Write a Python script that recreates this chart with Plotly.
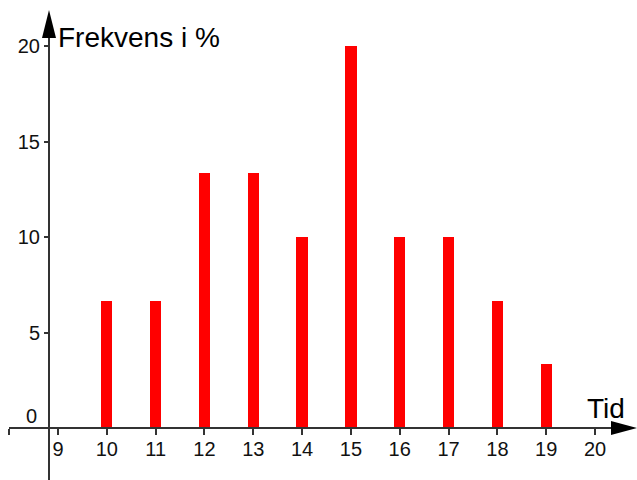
import plotly.graph_objects as go

# Data
tider = [10, 11, 12, 13, 14, 15, 16, 17, 18, 19]
frekvens = [6.67, 6.67, 13.33, 13.33, 10, 20, 10, 10, 6.67, 3.33]
x_ticks = [8, 9, 10, 11, 12, 13, 14, 15, 16, 17, 18, 19, 20]
x_ticktext = ["", "9", "10", "11", "12", "13", "14", "15", "16", "17", "18", "19", "20"]
y_ticks = [5, 10, 15, 20]
y_label = "Frekvens i %"
x_label = "Tid"

W, H = 637, 480
x0_px, dx_px = 58, 48.82      # pixel of x=9, pixels per unit
y0_px, dy_px = 428, 19.1      # pixel of y=0, pixels per unit

xr = [9 - x0_px / dx_px, 9 + (W - x0_px) / dx_px]
yr = [-(H - y0_px) / dy_px, y0_px / dy_px]

axis_col = "#333333"
font_fam = "Liberation Sans, Arial, sans-serif"

fig = go.Figure()
fig.add_trace(go.Bar(x=tider, y=frekvens, width=0.23, marker=dict(color="#ff0000", line=dict(width=0)),
                     showlegend=False, hoverinfo="x+y"))

yax_px = 49
fig.update_layout(
    width=W, height=H,
    margin=dict(l=0, r=0, t=0, b=0),
    paper_bgcolor="white", plot_bgcolor="white",
    xaxis=dict(range=xr, showgrid=False, zeroline=False, showline=False,
               tickvals=x_ticks, ticktext=x_ticktext, ticks="outside", ticklen=6, tickwidth=2,
               tickcolor=axis_col, anchor="free", position=(H - y0_px) / H, ticklabelstandoff=-3,
               tickfont=dict(family=font_fam, size=20, color="#111111")),
    yaxis=dict(range=yr, showgrid=False, zeroline=False, showline=False,
               tickvals=y_ticks, ticks="outside", ticklen=5, tickwidth=2, tickcolor=axis_col,
               anchor="free", position=yax_px / W,
               tickfont=dict(family=font_fam, size=20, color="#111111")),
    bargap=0,
)

def px(x):
    return x / W

def py(y):
    return 1 - y / H

# axis lines
fig.add_shape(type="line", xref="paper", yref="paper", x0=px(9), x1=px(620), y0=py(y0_px), y1=py(y0_px),
              line=dict(color=axis_col, width=2))
fig.add_shape(type="line", xref="paper", yref="paper", x0=px(yax_px), x1=px(yax_px), y0=py(480), y1=py(30),
              line=dict(color=axis_col, width=2))
# arrowheads
fig.add_shape(type="path", xref="paper", yref="paper",
              path=f"M {px(637)},{py(y0_px)} L {px(611)},{py(y0_px-7)} L {px(611)},{py(y0_px+7)} Z",
              fillcolor="black", line=dict(width=0))
fig.add_shape(type="path", xref="paper", yref="paper",
              path=f"M {px(yax_px)},{py(10)} L {px(yax_px-7)},{py(38)} L {px(yax_px+7)},{py(38)} Z",
              fillcolor="black", line=dict(width=0))

fig.add_annotation(text=y_label, xref="paper", yref="paper", x=px(56), y=py(37), xanchor="left",
                   yanchor="middle", showarrow=False, font=dict(family=font_fam, size=28, color="black"))
fig.add_annotation(text=x_label, xref="paper", yref="paper", x=px(585), y=py(408), xanchor="left",
                   yanchor="middle", showarrow=False, font=dict(family=font_fam, size=28, color="black"))
fig.add_annotation(text="0", xref="paper", yref="paper", x=px(39), y=py(416), xanchor="right",
                   yanchor="middle", showarrow=False, font=dict(family=font_fam, size=20, color="#111111"))

fig.write_html("out.html", config={"displayModeBar": False},
               post_script="document.body.style.margin='0';document.body.style.overflow='hidden';")
